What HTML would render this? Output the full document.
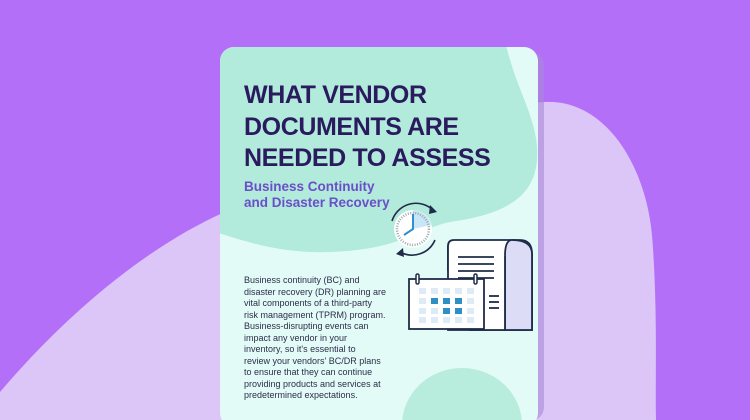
<!DOCTYPE html>
<html><head><style>
html,body{margin:0;padding:0;overflow:hidden;width:750px;height:420px;}
body{position:relative;background:#b46ff9;font-family:"Liberation Sans",sans-serif;}
svg{position:absolute;left:0;top:0;}
.t{position:absolute;left:244px;color:#2a1a5e;font-weight:bold;font-size:25px;line-height:31.5px;top:80px;letter-spacing:-0.4px;}
.s{position:absolute;left:244px;top:179px;color:#6b4fc9;font-weight:bold;font-size:13.5px;line-height:15.5px;}
.b{position:absolute;left:244px;top:275px;color:#2d2d4a;font-size:9px;line-height:11.5px;width:200px;white-space:nowrap;}
</style></head><body>
<svg width="750" height="420" viewBox="0 0 750 420">
<defs><clipPath id="c"><rect x="220" y="47" width="318" height="380" rx="14"/></clipPath></defs>
<path d="M0 392 C70 310 150 245 225 212 L 535 103 C 600 92 645 160 652 235 C 658 310 655 380 656 420 L0 420 Z" fill="#dcc6f8"/>
<rect x="224" y="51" width="320" height="370" rx="14" fill="#a889d8" opacity="0.6"/>
<rect x="220" y="47" width="318" height="380" rx="14" fill="#e2fbf6"/>
<g clip-path="url(#c)">
<path d="M210 40 L505 40 C515 90 540 120 537 160 C534 200 500 215 450 222 C420 228 400 250 330 252 C280 254 240 240 210 230 Z" fill="#b2eadb"/>
<ellipse cx="462" cy="425" rx="60" ry="57" fill="#b8ecdc"/>
</g>
<!-- clock -->
<g fill="none" stroke="#1f2b48" stroke-width="1.6">
<path d="M392 221 A25 25 0 0 1 433 210"/>
<path d="M435 240 A25 25 0 0 1 400 252"/>
</g>
<path d="M430 205 L437 212 L429 214 Z" fill="#1f2b48"/>
<path d="M403 248 L396 254 L404 257 Z" fill="#1f2b48"/>
<circle cx="413" cy="229" r="19" fill="#fff"/>
<path d="M413 229 L413 210 A19 19 0 0 1 431 225 Z" fill="#c8e6f6"/>
<circle cx="413" cy="229" r="16" fill="none" stroke="#9aa" stroke-width="2.5" stroke-dasharray="1 1.5"/>
<path d="M413 214 L413 229 L404 235" stroke="#2f8fd0" stroke-width="2" fill="none"/>
<!-- document -->
<path d="M448 246 Q448 240 454 240 L520 240 Q532 240 532 254 L532 330 L470 330 L470 270 L448 270 Z" fill="#fff" stroke="#1f2b48" stroke-width="1.8"/>
<path d="M512 240 Q532 240 532 254 L532 330 L505 330 L505 256 Q505 240 512 240 Z" fill="#dcdcf6" stroke="#1f2b48" stroke-width="1.8"/>
<path d="M448 246 L448 330 L505 330 L505 256" fill="#fff" stroke="#1f2b48" stroke-width="1.8"/>
<g stroke="#1f2b48" stroke-width="1.8">
<line x1="458" y1="257" x2="494" y2="257"/><line x1="458" y1="264" x2="494" y2="264"/>
<line x1="458" y1="271" x2="494" y2="271"/><line x1="458" y1="278" x2="494" y2="278"/>
<line x1="489" y1="296" x2="499" y2="296"/><line x1="489" y1="302" x2="499" y2="302"/><line x1="489" y1="308" x2="499" y2="308"/>
</g>
<!-- calendar -->
<rect x="409" y="279" width="75" height="50" fill="#fff" stroke="#1f2b48" stroke-width="1.8"/>
<rect x="416" y="274" width="3" height="10" rx="1.5" fill="#fff" stroke="#1f2b48" stroke-width="1.5"/>
<rect x="474" y="274" width="3" height="10" rx="1.5" fill="#fff" stroke="#1f2b48" stroke-width="1.5"/>
<g fill="#dcebf5">
<rect x="419" y="288" width="7" height="6"/><rect x="431" y="288" width="7" height="6"/><rect x="443" y="288" width="7" height="6"/><rect x="455" y="288" width="7" height="6"/><rect x="467" y="288" width="7" height="6"/>
<rect x="419" y="298" width="7" height="6"/><rect x="467" y="298" width="7" height="6"/>
<rect x="419" y="308" width="7" height="6"/><rect x="431" y="308" width="7" height="6"/><rect x="467" y="308" width="7" height="6"/>
<rect x="419" y="317" width="7" height="6"/><rect x="431" y="317" width="7" height="6"/><rect x="443" y="317" width="7" height="6"/><rect x="455" y="317" width="7" height="6"/><rect x="467" y="317" width="7" height="6"/>
</g>
<g fill="#2f8fc4">
<rect x="431" y="298" width="7" height="6"/><rect x="443" y="298" width="7" height="6"/><rect x="455" y="298" width="7" height="6"/>
<rect x="443" y="308" width="7" height="6"/><rect x="455" y="308" width="7" height="6"/>
</g>
</svg>
<div class="t">WHAT VENDOR<br>DOCUMENTS ARE<br>NEEDED TO ASSESS</div>
<div class="s">Business Continuity<br>and Disaster Recovery</div>
<div class="b">Business continuity (BC) and<br>disaster recovery (DR) planning are<br>vital components of a third-party<br>risk management (TPRM) program.<br>Business-disrupting events can<br>impact any vendor in your<br>inventory, so it's essential to<br>review your vendors' BC/DR plans<br>to ensure that they can continue<br>providing products and services at<br>predetermined expectations.</div>
</body></html>
